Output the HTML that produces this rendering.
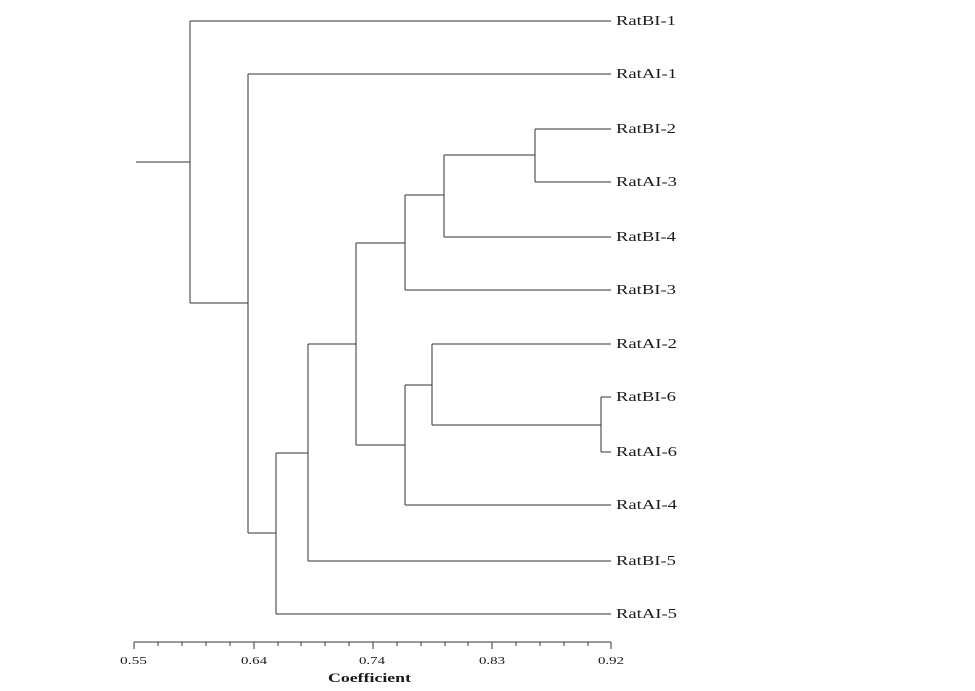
<!DOCTYPE html>
<html>
<head>
<meta charset="utf-8">
<style>
  html, body { margin: 0; padding: 0; background: #fff; }
  svg { display: block; }
  text { font-family: "Liberation Serif", "Times New Roman", serif; fill: #1a1a1a; }
</style>
</head>
<body>
<svg width="975" height="691" viewBox="0 0 975 691" xmlns="http://www.w3.org/2000/svg">
  <rect x="0" y="0" width="975" height="691" fill="#fff"/>
  <g stroke="#333" stroke-width="1.2" fill="none" shape-rendering="crispEdges">
    <!-- root -->
    <line x1="136" y1="162" x2="190" y2="162"/>
    <line x1="190" y1="21" x2="190" y2="303"/>
    <line x1="190" y1="21" x2="611" y2="21"/>
    <line x1="190" y1="303" x2="248" y2="303"/>
    <line x1="248" y1="74" x2="248" y2="533"/>
    <line x1="248" y1="74" x2="611" y2="74"/>
    <line x1="248" y1="533" x2="276" y2="533"/>
    <line x1="276" y1="453" x2="276" y2="614"/>
    <line x1="276" y1="614" x2="611" y2="614"/>
    <line x1="276" y1="453" x2="308" y2="453"/>
    <line x1="308" y1="344" x2="308" y2="561"/>
    <line x1="308" y1="561" x2="611" y2="561"/>
    <line x1="308" y1="344" x2="356" y2="344"/>
    <line x1="356" y1="243" x2="356" y2="445"/>
    <!-- upper cluster -->
    <line x1="356" y1="243" x2="405" y2="243"/>
    <line x1="405" y1="195" x2="405" y2="290"/>
    <line x1="405" y1="290" x2="611" y2="290"/>
    <line x1="405" y1="195" x2="444" y2="195"/>
    <line x1="444" y1="155" x2="444" y2="237"/>
    <line x1="444" y1="237" x2="611" y2="237"/>
    <line x1="444" y1="155" x2="535" y2="155"/>
    <line x1="535" y1="129" x2="535" y2="182"/>
    <line x1="535" y1="129" x2="611" y2="129"/>
    <line x1="535" y1="182" x2="611" y2="182"/>
    <!-- lower cluster -->
    <line x1="356" y1="445" x2="405" y2="445"/>
    <line x1="405" y1="385" x2="405" y2="505"/>
    <line x1="405" y1="505" x2="611" y2="505"/>
    <line x1="405" y1="385" x2="432" y2="385"/>
    <line x1="432" y1="344" x2="432" y2="425"/>
    <line x1="432" y1="344" x2="611" y2="344"/>
    <line x1="432" y1="425" x2="601" y2="425"/>
    <line x1="601" y1="397" x2="601" y2="452"/>
    <line x1="601" y1="397" x2="611" y2="397"/>
    <line x1="601" y1="452" x2="611" y2="452"/>
    <!-- axis -->
    <line x1="134" y1="642" x2="611" y2="642"/>
    <line x1="134" y1="642" x2="134" y2="649"/>
    <line x1="158" y1="642" x2="158" y2="646"/>
    <line x1="182" y1="642" x2="182" y2="646"/>
    <line x1="206" y1="642" x2="206" y2="646"/>
    <line x1="230" y1="642" x2="230" y2="646"/>
    <line x1="254" y1="642" x2="254" y2="649"/>
    <line x1="278" y1="642" x2="278" y2="646"/>
    <line x1="301" y1="642" x2="301" y2="646"/>
    <line x1="325" y1="642" x2="325" y2="646"/>
    <line x1="349" y1="642" x2="349" y2="646"/>
    <line x1="373" y1="642" x2="373" y2="649"/>
    <line x1="397" y1="642" x2="397" y2="646"/>
    <line x1="421" y1="642" x2="421" y2="646"/>
    <line x1="445" y1="642" x2="445" y2="646"/>
    <line x1="468" y1="642" x2="468" y2="646"/>
    <line x1="492" y1="642" x2="492" y2="649"/>
    <line x1="516" y1="642" x2="516" y2="646"/>
    <line x1="540" y1="642" x2="540" y2="646"/>
    <line x1="564" y1="642" x2="564" y2="646"/>
    <line x1="588" y1="642" x2="588" y2="646"/>
    <line x1="611" y1="642" x2="611" y2="649"/>
  </g>
  <g font-size="13.5" lengthAdjust="spacingAndGlyphs">
    <text x="616" y="25" textLength="60" lengthAdjust="spacingAndGlyphs">RatBI-1</text>
    <text x="616" y="78" textLength="61" lengthAdjust="spacingAndGlyphs">RatAI-1</text>
    <text x="616" y="133" textLength="60" lengthAdjust="spacingAndGlyphs">RatBI-2</text>
    <text x="616" y="186" textLength="61" lengthAdjust="spacingAndGlyphs">RatAI-3</text>
    <text x="616" y="241" textLength="60" lengthAdjust="spacingAndGlyphs">RatBI-4</text>
    <text x="616" y="294" textLength="60" lengthAdjust="spacingAndGlyphs">RatBI-3</text>
    <text x="616" y="348" textLength="61" lengthAdjust="spacingAndGlyphs">RatAI-2</text>
    <text x="616" y="401" textLength="60" lengthAdjust="spacingAndGlyphs">RatBI-6</text>
    <text x="616" y="456" textLength="61" lengthAdjust="spacingAndGlyphs">RatAI-6</text>
    <text x="616" y="509" textLength="61" lengthAdjust="spacingAndGlyphs">RatAI-4</text>
    <text x="616" y="565" textLength="60" lengthAdjust="spacingAndGlyphs">RatBI-5</text>
    <text x="616" y="618" textLength="61" lengthAdjust="spacingAndGlyphs">RatAI-5</text>
  </g>
  <g font-size="10.5">
    <text x="120" y="664" textLength="27" lengthAdjust="spacingAndGlyphs">0.55</text>
    <text x="241" y="664" textLength="26" lengthAdjust="spacingAndGlyphs">0.64</text>
    <text x="359" y="664" textLength="26" lengthAdjust="spacingAndGlyphs">0.74</text>
    <text x="479" y="664" textLength="26" lengthAdjust="spacingAndGlyphs">0.83</text>
    <text x="598" y="664" textLength="26" lengthAdjust="spacingAndGlyphs">0.92</text>
  </g>
  <text x="328" y="682" font-size="13" font-weight="bold" textLength="83" lengthAdjust="spacingAndGlyphs">Coefficient</text>
</svg>
</body>
</html>
